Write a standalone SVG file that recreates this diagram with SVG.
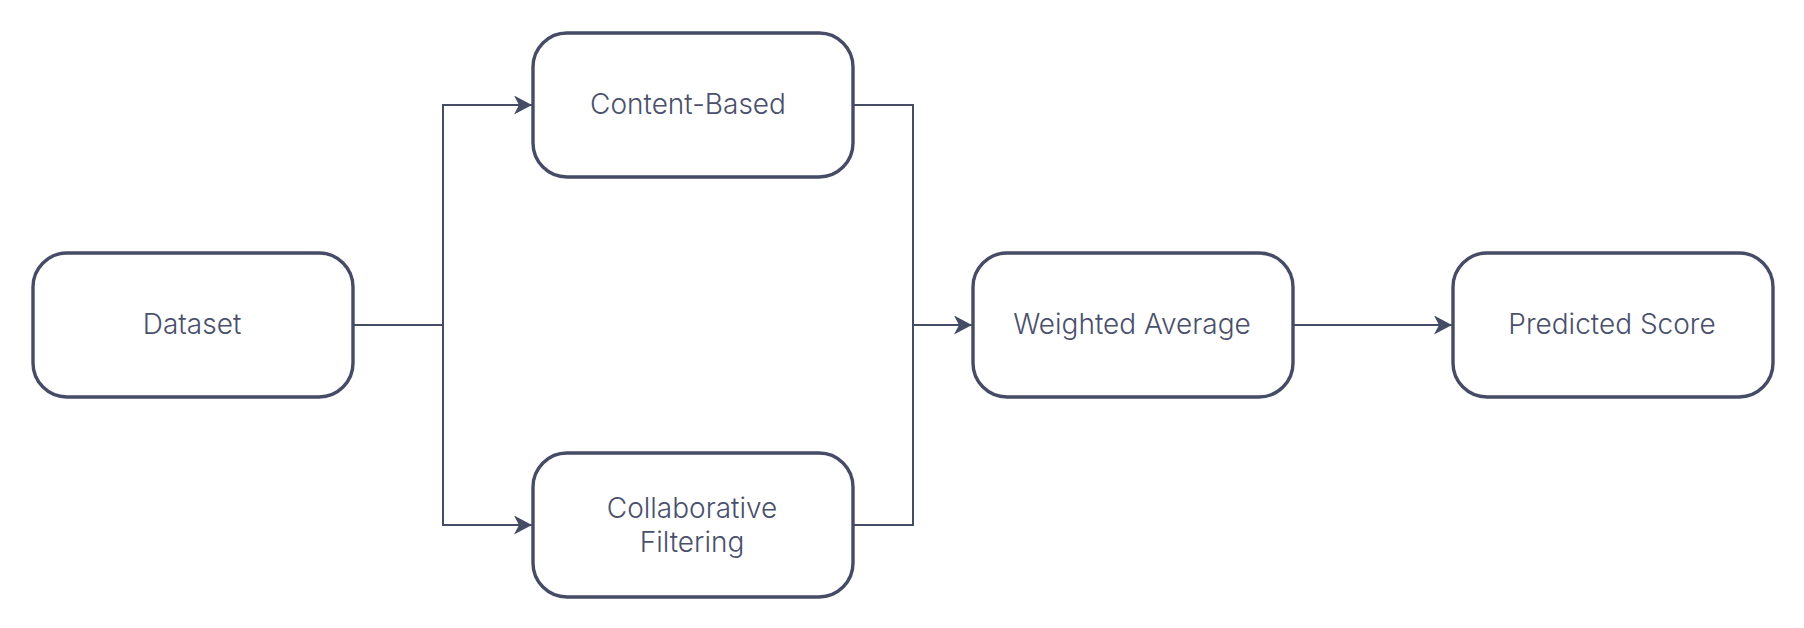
<svg xmlns="http://www.w3.org/2000/svg" width="1804" height="628" viewBox="0 0 1804 628">
<style>
.node rect{fill:#ffffff;stroke:#464b66;stroke-width:3.4}
.node text{font-family:Inter,"Noto Sans","Liberation Sans",sans-serif;font-size:28px;font-weight:300;fill:#4a506c;text-anchor:middle;dominant-baseline:central}
.edge{fill:none;stroke:#464b66;stroke-width:2}
</style>
<defs>
<marker id="arrow" markerUnits="userSpaceOnUse" markerWidth="19" markerHeight="19" refX="18" refY="9.5" orient="auto">
<path d="M0,0 L18,9.5 L0,19 L5,9.5 Z" fill="#464b66"/>
</marker>
</defs>
<rect width="1804" height="628" fill="#ffffff"/>
<g id="connectors">
<path class="edge" d="M353,325 H443 V105 H532" marker-end="url(#arrow)"/>
<path class="edge" d="M443,325 V525 H532" marker-end="url(#arrow)"/>
<path class="edge" d="M853,105 H913 V325 H972" marker-end="url(#arrow)"/>
<path class="edge" d="M853,525 H913 V325"/>
<path class="edge" d="M1293,325 H1452" marker-end="url(#arrow)"/>
</g>
<g id="node-dataset" class="node">
<rect x="33" y="253" width="320" height="144" rx="34"/>
<text x="192" y="324">Dataset</text>
</g>
<g id="node-content" class="node">
<rect x="533" y="33" width="320" height="144" rx="34"/>
<text x="688" y="104">Content-Based</text>
</g>
<g id="node-collab" class="node">
<rect x="533" y="453" width="320" height="144" rx="34"/>
<text x="692" y="508">Collaborative</text>
<text x="692" y="542">Filtering</text>
</g>
<g id="node-weighted" class="node">
<rect x="973" y="253" width="320" height="144" rx="34"/>
<text x="1132" y="324">Weighted Average</text>
</g>
<g id="node-predicted" class="node">
<rect x="1453" y="253" width="320" height="144" rx="34"/>
<text x="1612" y="324">Predicted Score</text>
</g>
</svg>
